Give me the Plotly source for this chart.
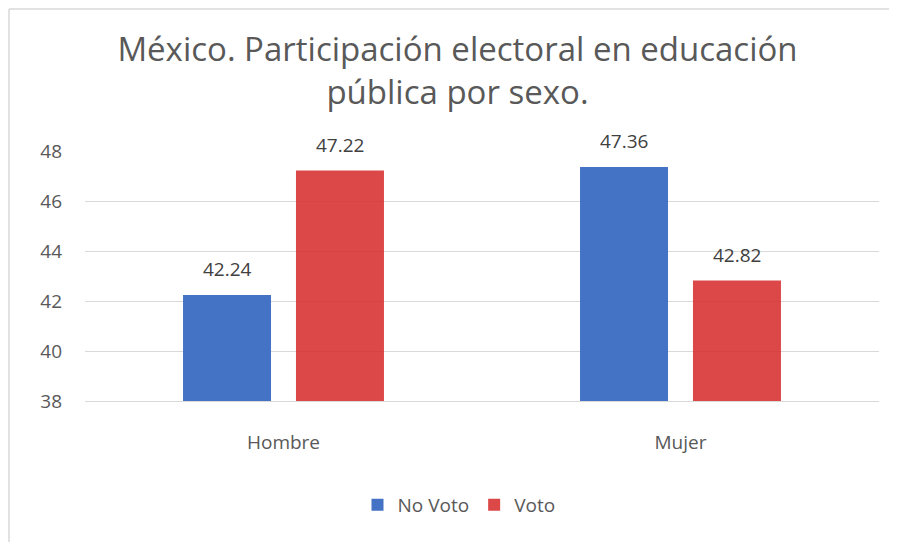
import plotly.graph_objects as go

categories = ["Hombre", "Mujer"]
no_voto = [42.24, 47.36]
voto = [47.22, 42.82]
series_names = ["No Voto", "Voto"]
y_ticks = [38, 40, 42, 44, 46, 48]

W, H = 897, 542
OFF = 8  # page body margin
# target plot area in screen pixels
P_L, P_R, P_T, P_B = 85, 879, 151, 401
ML = P_L - OFF
MT = P_T - OFF
MR = W - (P_R - OFF)
MB = H - (P_B - OFF)
plot_w = P_R - P_L
plot_h = P_B - P_T
cat_w = plot_w / len(categories)
bargap = 0.431
bargroupgap = 0.221
slot = cat_w * (1 - bargap) / 2
offsets = [-slot / 2, slot / 2]

colors = ["#4472C4", "rgba(214,40,40,0.85)"]
font_family = "Open Sans, Noto Sans, sans-serif"


def px_x(px):
    return (px - P_L) / plot_w


def px_y(py):
    return (P_B - py) / plot_h


fig = go.Figure()
for name, vals, col in zip(series_names, [no_voto, voto], colors):
    fig.add_trace(go.Bar(x=categories, y=vals, name=name, marker=dict(color=col, line=dict(width=0))))

annotations = []
for vals, off in zip([no_voto, voto], offsets):
    for c, v in zip(categories, vals):
        annotations.append(dict(x=c, y=v, xref="x", yref="y", text=f"{v:.2f}", showarrow=False,
                                xshift=off, yshift=11, yanchor="bottom",
                                font=dict(size=19, color="#404040", family=font_family)))

border = dict(color="#D9D9D9", width=1.5)
fig.update_layout(
    width=W, height=H,
    margin=dict(l=ML, r=MR, t=MT, b=MB, pad=0, autoexpand=False),
    paper_bgcolor="white", plot_bgcolor="white",
    barmode="group", bargap=bargap, bargroupgap=bargroupgap,
    title=dict(text="México. Participación electoral en educación<br>pública por sexo.",
               x=(457.5 - OFF) / W, xanchor="center", y=1 - 53 / H, yanchor="top", yref="container",
               font=dict(size=33, color="#595959", family=font_family), automargin=False),
    font=dict(family=font_family, color="#595959"),
    legend=dict(orientation="h", x=px_x(459), xanchor="center",
                y=px_y(505), yanchor="middle",
                font=dict(size=19, color="#595959"), traceorder="normal"),
    annotations=annotations,
    shapes=[
        dict(type="line", xref="paper", yref="paper", x0=px_x(9), x1=px_x(W + 20),
             y0=px_y(9), y1=px_y(9), line=border, layer="below"),
        dict(type="line", xref="paper", yref="paper", x0=px_x(9), x1=px_x(9),
             y0=px_y(9), y1=px_y(H + 20), line=border, layer="below"),
    ],
)
fig.update_yaxes(range=[38, 48], tickvals=y_ticks, showgrid=True, gridcolor="#D9D9D9", gridwidth=1,
                 zeroline=False, showline=False, tickfont=dict(size=19, color="#595959"),
                 ticklabelstandoff=22)
fig.update_xaxes(showline=True, linecolor="#D9D9D9", linewidth=1, showgrid=False,
                 tickfont=dict(size=19, color="#595959"), ticklabelstandoff=24)

fig.write_html("out.html")
